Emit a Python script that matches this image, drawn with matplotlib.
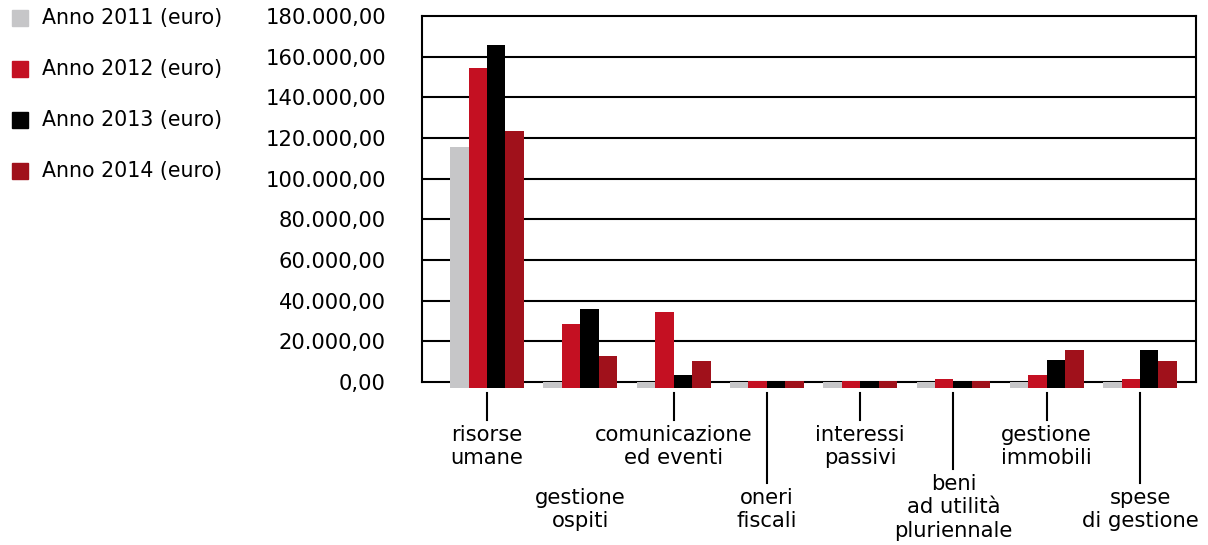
import matplotlib
matplotlib.use('Agg')
import matplotlib.pyplot as plt
from matplotlib.patches import Rectangle
from matplotlib.ticker import FuncFormatter
import numpy as np

categories = ['risorse\numane', 'gestione\nospiti', 'comunicazione\ned eventi',
              'oneri\nfiscali', 'interessi\npassivi', 'beni\nad utilità\npluriennale',
              'gestione\nimmobili', 'spese\ndi gestione']

anni = ['Anno 2011 (euro)', 'Anno 2012 (euro)', 'Anno 2013 (euro)', 'Anno 2014 (euro)']
valori_2011 = [115700, 200, 200, 200, 200, 200, 200, 200]
valori_2012 = [154400, 28500, 34400, 300, 300, 1500, 3400, 1500]
valori_2013 = [165700, 35900, 3400, 300, 300, 500, 10800, 15700]
valori_2014 = [123400, 12800, 10300, 300, 300, 300, 15700, 10300]
colori = ['#c6c6c8', '#c41022', '#000000', '#a0111b']

yticks = [0, 20000, 40000, 60000, 80000, 100000, 120000, 140000, 160000, 180000]

# where the tick line under each group stops and where its label starts (axes units)
tick_end = [-0.104, None, -0.104, -0.276, -0.104, -0.238, -0.104, -0.276]
label_top = [-0.118, -0.290, -0.118, -0.290, -0.118, -0.252, -0.118, -0.290]

plt.rcParams['font.family'] = ['DejaVu Sans']
fs = 15.2

fig = plt.figure(figsize=(12.08, 5.45), dpi=100)
ax = fig.add_axes([422/1208, 1-382/545, (1196-422)/1208, (382-16)/545])

serie = [valori_2011, valori_2012, valori_2013, valori_2014]
x = np.arange(len(categories))
w = 0.198
base = -3000  # bars start slightly below the zero line
for k, vals in enumerate(serie):
    h = [v - base for v in vals]
    ax.bar(x + (k - 1.5)*w, h, w, bottom=base, color=colori[k],
           zorder=3, clip_on=False, linewidth=0)

ax.set_ylim(0, 180000)
ax.set_xlim(-0.697, 7.60)
ax.set_yticks(yticks)
ax.yaxis.set_major_formatter(FuncFormatter(
    lambda v, p: '{:,.2f}'.format(v).replace(',', 'X').replace('.', ',').replace('X', '.')))
ax.tick_params(axis='y', length=0, pad=26, labelsize=fs)
ax.set_xticks([])
for t in yticks[1:-1]:
    ax.axhline(t, color='black', lw=1.5, zorder=1)
for s in ax.spines.values():
    s.set_linewidth(1.5)
    s.set_zorder(1)

tr = ax.get_xaxis_transform()
for i, lab in enumerate(categories):
    if tick_end[i] is not None:
        ax.plot([i, i], [-0.030, tick_end[i]], color='black', lw=1.5,
                transform=tr, clip_on=False)
    ax.text(i, label_top[i], lab, transform=tr, ha='center', va='top',
            fontsize=fs, linespacing=1.2, multialignment='center')

# legend drawn by hand in figure pixels
for k, nome in enumerate(anni):
    yc = 18 + k*51
    fig.add_artist(Rectangle((12/1208, 1-(yc+8)/545), 16/1208, 16/545,
                             transform=fig.transFigure, color=colori[k]))
    fig.text(42/1208, 1-yc/545, nome, fontsize=fs - 0.4, va='center', ha='left')

fig.savefig('out.png', dpi=100)
